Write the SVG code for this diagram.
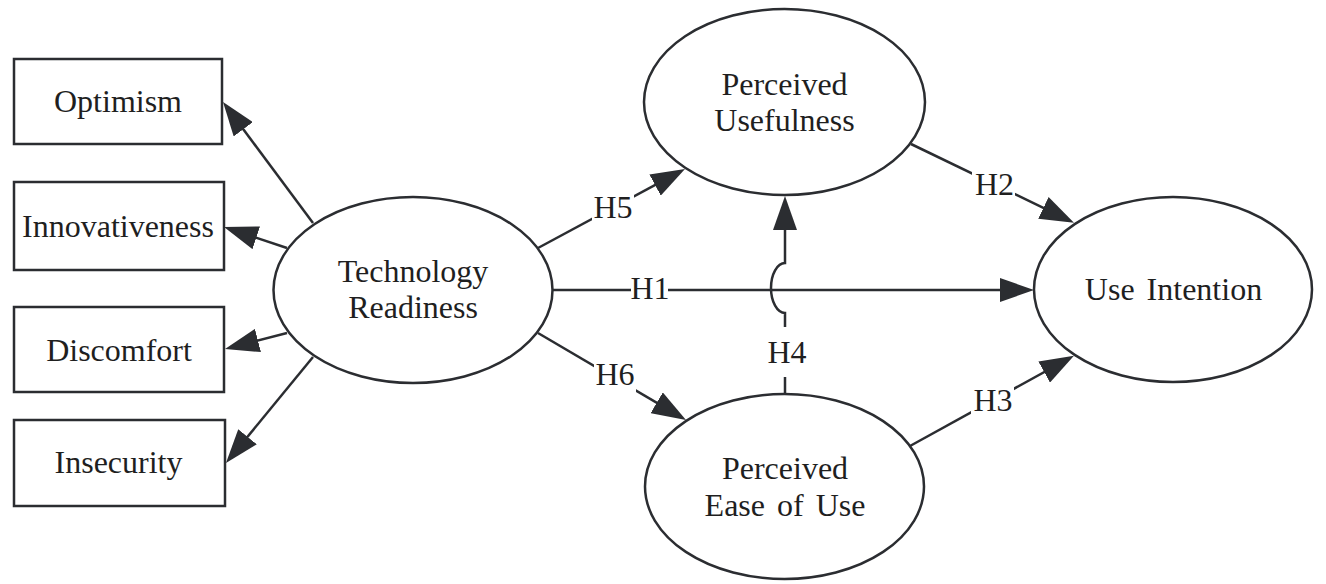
<svg xmlns="http://www.w3.org/2000/svg" width="1326" height="584" viewBox="0 0 1326 584">
<style>
.shape{fill:#fff;stroke:#2b2d31;stroke-width:2.5}
.lbl{font-family:"Liberation Serif","Times New Roman",serif;font-size:32px;fill:#1f1f1f;text-anchor:middle}
.ws{word-spacing:4px}
.edge{fill:none;stroke:#2b2d31;stroke-width:2.5}
.gap{fill:#fff;stroke:none}
</style>
<defs>
<marker id="arrow" markerUnits="userSpaceOnUse" viewBox="0 0 34 24" refX="24" refY="12" markerWidth="34" markerHeight="24" orient="auto">
<polygon points="0,0 34,12 0,24" fill="#2b2d31"/>
</marker>
</defs>
<rect width="1326" height="584" fill="#fff"/>
<g id="connectors">
<line class="edge" x1="313" y1="223" x2="229" y2="110" marker-end="url(#arrow)"/>
<line class="edge" x1="287" y1="248" x2="233.5" y2="230.2" marker-end="url(#arrow)"/>
<line class="edge" x1="287" y1="333" x2="234.7" y2="346.5" marker-end="url(#arrow)"/>
<line class="edge" x1="313" y1="357" x2="232.3" y2="455.3" marker-end="url(#arrow)"/>
<line class="edge" x1="538" y1="248" x2="676.2" y2="173.7" marker-end="url(#arrow)"/>
<line class="edge" x1="538" y1="333" x2="677.4" y2="414.9" marker-end="url(#arrow)"/>
<line class="edge" x1="552" y1="290" x2="1024" y2="290" marker-end="url(#arrow)"/>
<line class="edge" x1="911" y1="144" x2="1065" y2="218.3" marker-end="url(#arrow)"/>
<line class="edge" x1="910" y1="446" x2="1065.2" y2="360.5" marker-end="url(#arrow)"/>
<path class="edge" d="M785,394 V313 A14,25 0 0 1 785,263 V206" marker-end="url(#arrow)"/>
<g id="edge-labels">
<rect class="gap" x="592" y="183" width="42" height="50"/>
<text class="lbl" x="613" y="218">H5</text>
<rect class="gap" x="594" y="350" width="42" height="50"/>
<text class="lbl" x="615" y="385">H6</text>
<rect class="gap" x="631" y="263" width="37" height="50"/>
<text class="lbl" x="650" y="299">H1</text>
<rect class="gap" x="766" y="327" width="42" height="50"/>
<text class="lbl" x="787" y="363">H4</text>
<rect class="gap" x="972" y="160" width="43" height="50"/>
<text class="lbl" x="994.5" y="195">H2</text>
<rect class="gap" x="971" y="376" width="43" height="50"/>
<text class="lbl" x="993" y="411">H3</text>
</g>
</g>
<g id="optimism">
<rect class="shape" x="14" y="59" width="208" height="85"/>
<text class="lbl" x="118" y="112">Optimism</text>
</g>
<g id="innovativeness">
<rect class="shape" x="14" y="182" width="210" height="88"/>
<text class="lbl" x="118" y="237">Innovativeness</text>
</g>
<g id="discomfort">
<rect class="shape" x="14" y="307" width="210" height="85"/>
<text class="lbl" x="119" y="361">Discomfort</text>
</g>
<g id="insecurity">
<rect class="shape" x="14" y="420" width="211" height="86"/>
<text class="lbl" x="118.5" y="473">Insecurity</text>
</g>
<g id="technology-readiness">
<ellipse class="shape" cx="413" cy="290" rx="139.5" ry="93"/>
<text class="lbl" x="413" y="282">Technology</text>
<text class="lbl" x="413" y="318">Readiness</text>
</g>
<g id="perceived-usefulness">
<ellipse class="shape" cx="784.5" cy="102" rx="140.5" ry="93"/>
<text class="lbl" x="784.5" y="95">Perceived</text>
<text class="lbl" x="784.5" y="131">Usefulness</text>
</g>
<g id="perceived-ease-of-use">
<ellipse class="shape" cx="784.5" cy="486.5" rx="139.5" ry="92.5"/>
<text class="lbl" x="785" y="479">Perceived</text>
<text class="lbl ws" x="785" y="516">Ease of Use</text>
</g>
<g id="use-intention">
<ellipse class="shape" cx="1173" cy="289.5" rx="139" ry="92.5"/>
<text class="lbl ws" x="1173.5" y="300">Use Intention</text>
</g>
</svg>
